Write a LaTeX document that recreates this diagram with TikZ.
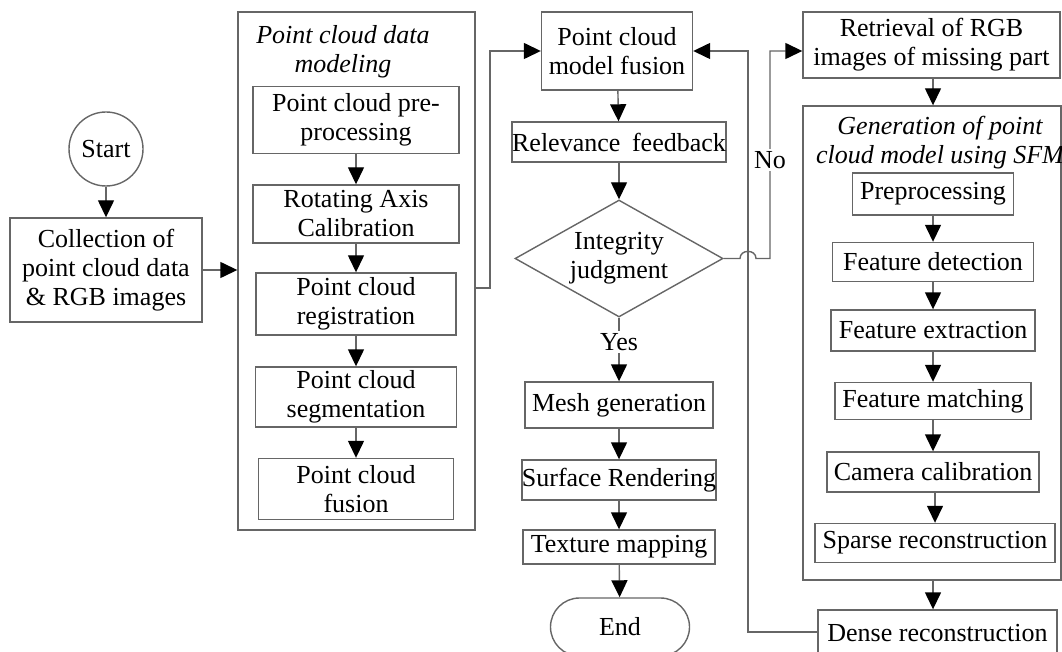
\documentclass[tikz,border=0pt]{standalone}
\usepackage{fontspec}
\setmainfont{Liberation Serif}
\usetikzlibrary{arrows.meta,shapes.geometric,shapes.misc,calc}
\definecolor{linec}{HTML}{666666}
\begin{document}
\begin{tikzpicture}[x=1pt,y=-1pt,
  box/.style={draw=linec, line width=1.4pt, rectangle, inner sep=0pt, align=center, font=\fontsize{26}{29}\selectfont},
  grp/.style={draw=linec, line width=1.4pt, rectangle, inner sep=0pt},
  ttl/.style={font=\fontsize{26}{29}\selectfont\itshape, align=center, inner sep=0pt},
  lbl/.style={font=\fontsize{26}{29}\selectfont, fill=white, inner sep=2pt},
  arr/.style={draw=linec, line width=1.4pt, -{Triangle[length=17pt,width=16pt,color=black]}},
  ln/.style={draw=linec, line width=1.4pt},
]
\useasboundingbox (0,0) rectangle (1062,652);

% left
\node[box, circle, minimum size=74pt] (start) at (106,149) {Start};
\node[box, minimum width=192pt, minimum height=104pt] (coll) at (106,270) {Collection of\\point cloud data\\\& RGB images};

% group 1
\node[grp, minimum width=237pt, minimum height=518pt] (big1) at (356.5,271) {};
\node[ttl] (t1) at (343,52) {Point cloud data\\modeling};
\node[box, minimum width=206pt, minimum height=67pt] (pre) at (356,120) {Point cloud pre-\\processing};
\node[box, minimum width=206pt, minimum height=58pt] (rot) at (356,214) {Rotating Axis\\Calibration};
\node[box, minimum width=200pt, minimum height=62pt] (reg) at (356,304) {Point cloud\\registration};
\node[box, minimum width=201pt, minimum height=60pt] (seg) at (356,397) {Point cloud\\segmentation};
\node[box, minimum width=195pt, minimum height=61pt] (fus) at (356,489) {Point cloud\\fusion};

% center column
\node[box, minimum width=151pt, minimum height=78pt] (mfus) at (617,51) {Point cloud\\model fusion};
\node[box, minimum width=214pt, minimum height=40pt] (rel) at (619,142) {Relevance\hspace{0.45em}feedback};
\node[box, diamond, aspect=1.78, minimum width=208pt, minimum height=117pt] (diam) at (619,258.5) {Integrity\\judgment};
\node[box, minimum width=188pt, minimum height=46pt] (mesh) at (619,405) {Mesh generation};
\node[box, minimum width=194pt, minimum height=40pt] (surf) at (619,480) {Surface Rendering};
\node[box, minimum width=192pt, minimum height=34pt] (tex) at (619,547) {Texture mapping};
\node[box, rounded rectangle, minimum width=139pt, minimum height=58pt] (end) at (620,627) {End};

% right column
\node[box, minimum width=257pt, minimum height=66pt] (ret) at (931.5,45) {Retrieval of RGB\\images of missing part};
\node[grp, minimum width=258pt, minimum height=474pt] (big2) at (932,343) {};
\node[ttl] (t2) at (940,143) {Generation of point\\cloud model using SFM};
\node[box, minimum width=161pt, minimum height=42pt] (pp) at (933,194) {Preprocessing};
\node[box, minimum width=201pt, minimum height=39pt] (fd) at (933,262) {Feature detection};
\node[box, minimum width=204pt, minimum height=41pt] (fe) at (933,330.5) {Feature extraction};
\node[box, minimum width=196pt, minimum height=37pt] (fm) at (933,401) {Feature matching};
\node[box, minimum width=212pt, minimum height=40pt] (cc) at (933,472) {Camera calibration};
\node[box, minimum width=240pt, minimum height=39pt] (sr) at (935,543) {Sparse reconstruction};
\node[box, minimum width=239pt, minimum height=46pt] (dr) at (937.5,633) {Dense reconstruction};

% coordinates for routed connectors
\coordinate (j1) at (490,288);
\coordinate (j2) at (770,51);
\coordinate (fb) at (748,632);

% connectors
\draw[arr] (start) -- (coll);
\draw[arr] (coll.east) -- (coll.east -| big1.west);
\draw[arr] (pre) -- (rot);
\draw[arr] (rot) -- (reg);
\draw[arr] (reg) -- (seg);
\draw[arr] (seg) -- (fus);
\draw[arr] (big1.east |- j1) -- (j1) |- (mfus.west);
\draw[arr] (mfus) -- (rel);
\draw[arr] (rel) -- (diam);
\draw[arr] (diam.south) -- node[lbl, pos=0.38] (yes) {Yes} (mesh.north);
\draw[arr] (mesh) -- (surf);
\draw[arr] (surf) -- (tex);
\draw[arr] (tex) -- (end);

\draw[arr] (diam.east) -- (740,258.5) .. controls (740,249) and (756,249) .. (756,258.5) -- (j2 |- diam.east) -- (j2) -- (j2 -| ret.west);
\node[lbl] (no) at (770,160) {No};

\draw[arr] (dr.west |- fb) -- (fb) |- (mfus.east);

\draw[arr] (ret.south -| pp) -- (big2.north -| pp);
\draw[arr] (pp) -- (fd);
\draw[arr] (fd) -- (fe);
\draw[arr] (fe) -- (fm);
\draw[arr] (fm) -- (cc);
\draw[arr] (cc.south -| sr) -- (sr.north -| sr);
\draw[arr] (big2.south -| pp) -- (dr.north -| pp);
\end{tikzpicture}
\end{document}
